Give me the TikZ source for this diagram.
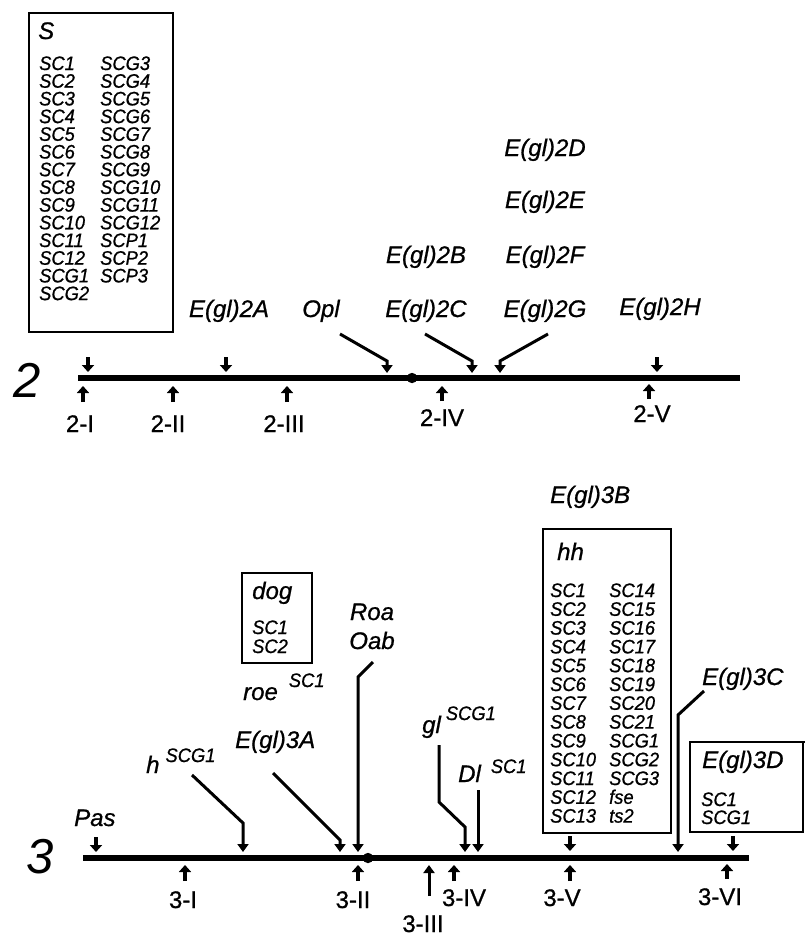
\documentclass[tikz,border=0pt]{standalone}
\usepackage{fontspec}
\setmainfont{Liberation Sans}
\newfontfamily\labfont{Liberation Sans}[FakeBold=0.8]
\newfontfamily\smfont{Liberation Sans}[FakeBold=0.8,FakeStretch=0.94]
\usetikzlibrary{arrows.meta}
\newcommand\biglab{\labfont\fontsize{24}{28}\selectfont\itshape}
\newcommand\smlab{\smfont\fontsize{19.5}{19}\selectfont\itshape}
\newcommand\romlab{\labfont\fontsize{24}{28}\selectfont}
\newcommand\chrlab{\fontsize{49}{52}\selectfont\itshape}
\begin{document}
\begin{tikzpicture}[x=1pt,y=-1pt,
  big/.style={font=\biglab, inner sep=0pt, anchor=base west},
  bigc/.style={font=\biglab, inner sep=0pt, anchor=base},
  sm/.style={font=\smlab, inner sep=0pt, anchor=base west},
  rom/.style={font=\romlab, inner sep=0pt, anchor=base},
  chr/.style={font=\chrlab, inner sep=0pt, anchor=base},
  chrom/.style={line width=6pt},
  box/.style={draw, line width=1.2pt},
  ptr/.style={line width=3pt, -{Triangle[length=8pt,width=11pt]}},
  tick/.style={line width=3.5pt, -{Triangle[length=7pt,width=12pt]}}]
\useasboundingbox (0,0) rectangle (805,938);

% ---------------- chromosome 2 ----------------
\draw[chrom] (78,378) coordinate (c2l) -- (740,378) coordinate (c2r);
\fill (412,378) circle (5.2);
\node[chr] (n2) at (27,397) {2};

% S box
\draw[box] (29,13) rectangle (173,332);
\node[big] (S) at (38,39) {S};
\foreach \t [count=\i from 0] in {SC1,SC2,SC3,SC4,SC5,SC6,SC7,SC8,SC9,SC10,SC11,SC12,SCG1,SCG2}
  \node[sm] (sl\i) at (39,{70+17.7*\i}) {\t};
\foreach \t [count=\i from 0] in {SCG3,SCG4,SCG5,SCG6,SCG7,SCG8,SCG9,SCG10,SCG11,SCG12,SCP1,SCP2,SCP3}
  \node[sm] (sr\i) at (100,{70+17.7*\i}) {\t};

% labels above chromosome 2
\node[bigc] (e2a) at (229,317) {E(gl)2A};
\node[bigc] (opl) at (321,317) {Opl};
\node[bigc] (e2b) at (426,263) {E(gl)2B};
\node[bigc] (e2c) at (426,317) {E(gl)2C};
\node[bigc] (e2d) at (545,156) {E(gl)2D};
\node[bigc] (e2e) at (545,208) {E(gl)2E};
\node[bigc] (e2f) at (545,263) {E(gl)2F};
\node[bigc] (e2g) at (545,317) {E(gl)2G};
\node[bigc] (e2h) at (660,315) {E(gl)2H};

% pointers chromosome 2
\draw[tick] (88,357) -- (88,372);
\draw[tick] (226,357) -- (226,372);
\draw[tick] (657,357) -- (657,372);
\draw[ptr] (340,334) -- (387,361) -- (387,373);
\draw[ptr] (425,334) -- (472,361) -- (472,373);
\draw[ptr] (548,334) -- (500,361) -- (500,373);

\draw[tick] (83,402) -- (83,386);
\draw[tick] (173,402) -- (173,386);
\draw[tick] (287,402) -- (287,386);
\draw[tick] (442,401) -- (442,386);
\draw[tick] (649,399) -- (649,384);

\node[rom] (r2i) at (80,432) {2-I};
\node[rom] (r2ii) at (168,432) {2-II};
\node[rom] (r2iii) at (284,432) {2-III};
\node[rom] (r2iv) at (442,426) {2-IV};
\node[rom] (r2v) at (652,422) {2-V};

% ---------------- chromosome 3 ----------------
\draw[chrom] (83,858) coordinate (c3l) -- (749,858) coordinate (c3r);
\fill (368,858) circle (5.2);
\node[chr] (n3) at (40,873) {3};

% dog box
\draw[box] (242,573) rectangle (312,663);
\node[big] (dog) at (252,599) {dog};
\node[sm] (dog1) at (252,634) {SC1};
\node[sm] (dog2) at (252,653) {SC2};

\node[big] (roe) at (243,700) {roe\hspace{11pt}\raisebox{13pt}{\smlab SC1}};
\node[bigc] (roa) at (372,620) {Roa};
\node[bigc] (oab) at (372,649) {Oab};
\node[big] (e3a) at (235,748) {E(gl)3A};
\node[big] (h) at (146,773) {h\hspace{6pt}\raisebox{11pt}{\smlab SCG1}};
\node[big] (pas) at (74,826) {Pas};
\node[big] (gl) at (422,733) {gl\hspace{5pt}\raisebox{13pt}{\smlab SCG1}};
\node[big] (dl) at (458,782) {Dl\hspace{10pt}\raisebox{9pt}{\smlab SC1}};

% hh box
\node[big] (e3b) at (550,503) {E(gl)3B};
\draw[box] (543,529) rectangle (671,833);
\node[big] (hh) at (557,560) {hh};
\foreach \t [count=\i from 0] in {SC1,SC2,SC3,SC4,SC5,SC6,SC7,SC8,SC9,SC10,SC11,SC12,SC13}
  \node[sm] (hl\i) at (550,{597+18.8*\i}) {\t};
\foreach \t [count=\i from 0] in {SC14,SC15,SC16,SC17,SC18,SC19,SC20,SC21,SCG1,SCG2,SCG3,fse,ts2}
  \node[sm] (hr\i) at (609,{597+18.8*\i}) {\t};

% E(gl)3C
\node[big] (e3c) at (702,685) {E(gl)3C};

% E(gl)3D box
\draw[box] (805,742) -- (690,742) -- (690,832) -- (803,832) -- (803,742);
\node[big] (e3d) at (702,768) {E(gl)3D};
\node[sm] (d1) at (701,806) {SC1};
\node[sm] (d2) at (701,824) {SCG1};

% pointers chromosome 3
\draw[tick] (96,837) -- (96,852);
\draw[tick] (570,836) -- (570,851);
\draw[tick] (733,836) -- (733,851);
\draw[ptr] (192,775) -- (243,823) -- (243,852);
\draw[ptr] (273,773) -- (340,840) -- (340,852);
\draw[ptr] (373,662) -- (358,677) -- (358,852);
\draw[ptr] (439,745) -- (439,802) -- (465,827) -- (465,852);
\draw[ptr] (478,790) -- (478,852);
\draw[ptr] (704,691) -- (678,715) -- (678,852);

\draw[tick] (185,881) -- (185,865);
\draw[tick] (358,881) -- (358,865);
\draw[tick] (454,881) -- (454,865);
\draw[tick] (570,881) -- (570,865);
\draw[tick] (727,879) -- (727,864);
\draw[ptr] (429,896) -- (429,865);

\node[rom] (r3i) at (183,908) {3-I};
\node[rom] (r3ii) at (353,908) {3-II};
\node[rom] (r3iii) at (423,932) {3-III};
\node[rom] (r3iv) at (464,906) {3-IV};
\node[rom] (r3v) at (562,906) {3-V};
\node[rom] (r3vi) at (720,905) {3-VI};
\end{tikzpicture}
\end{document}
